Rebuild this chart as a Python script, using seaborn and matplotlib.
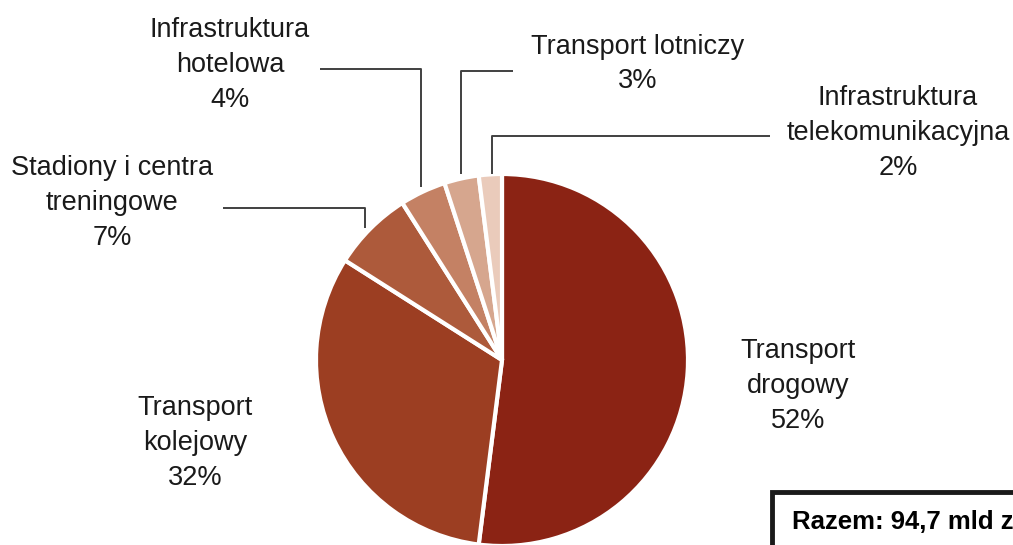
import matplotlib.pyplot as plt
import seaborn as sns
from matplotlib.patches import Rectangle

labels = ['Transport\ndrogowy', 'Transport\nkolejowy', 'Stadiony i centra\ntreningowe',
          'Infrastruktura\nhotelowa', 'Transport lotniczy', 'Infrastruktura\ntelekomunikacyjna']
shares = [52, 32, 7, 4, 3, 2]
colors = ['#8B2314', '#9C3E22', '#AD5A3B', '#C48164', '#D6A68E', '#EACBBB']
total_text = 'Razem: 94,7 mld zł'

sns.set_theme(style="white")
plt.rcParams['font.family'] = ['Liberation Sans', 'DejaVu Sans']

W, H = 1013, 545
fig = plt.figure(figsize=(W / 100, H / 100), dpi=100)
ax = fig.add_axes([0, 0, 1, 1])

def Y(y):
    # pixel row from top -> data y
    return H - y

ax.pie(shares, colors=colors, startangle=90, counterclock=False,
       center=(502, Y(360)), radius=186, frame=True,
       wedgeprops=dict(edgecolor='white', linewidth=3))
ax.set_xlim(0, W)
ax.set_ylim(0, H)
ax.set_aspect('equal')
ax.axis('off')

# label positions (pixel centres of the text blocks)
label_pos = [(798, 386), (195, 443), (112, 203), (230, 65), (638, 64), (898, 133)]
for lab, s, (x, y) in zip(labels, shares, label_pos):
    ax.text(x, Y(y), f'{lab}\n{s}%', ha='center', va='center', fontsize=19.5,
            color='#1a1a1a', linespacing=1.45)

# leader lines
line_kw = dict(color='#404040', lw=1.4, solid_capstyle='butt')
ax.plot([223, 365, 365], [Y(208), Y(208), Y(228)], **line_kw)
ax.plot([320, 421, 421], [Y(69), Y(69), Y(187)], **line_kw)
ax.plot([513, 461, 461], [Y(71), Y(71), Y(174)], **line_kw)
ax.plot([770, 492, 492], [Y(136), Y(136), Y(174)], **line_kw)

# total box (runs off the right edge like the source)
ax.add_patch(Rectangle((772, Y(560)), 300, 68, facecolor='white',
                       edgecolor='#1a1a1a', linewidth=3.5, clip_on=False))
ax.text(792, Y(522), total_text, ha='left', va='center', fontsize=18.5,
        fontweight='bold', color='black')

fig.savefig('out.png', dpi=100)
